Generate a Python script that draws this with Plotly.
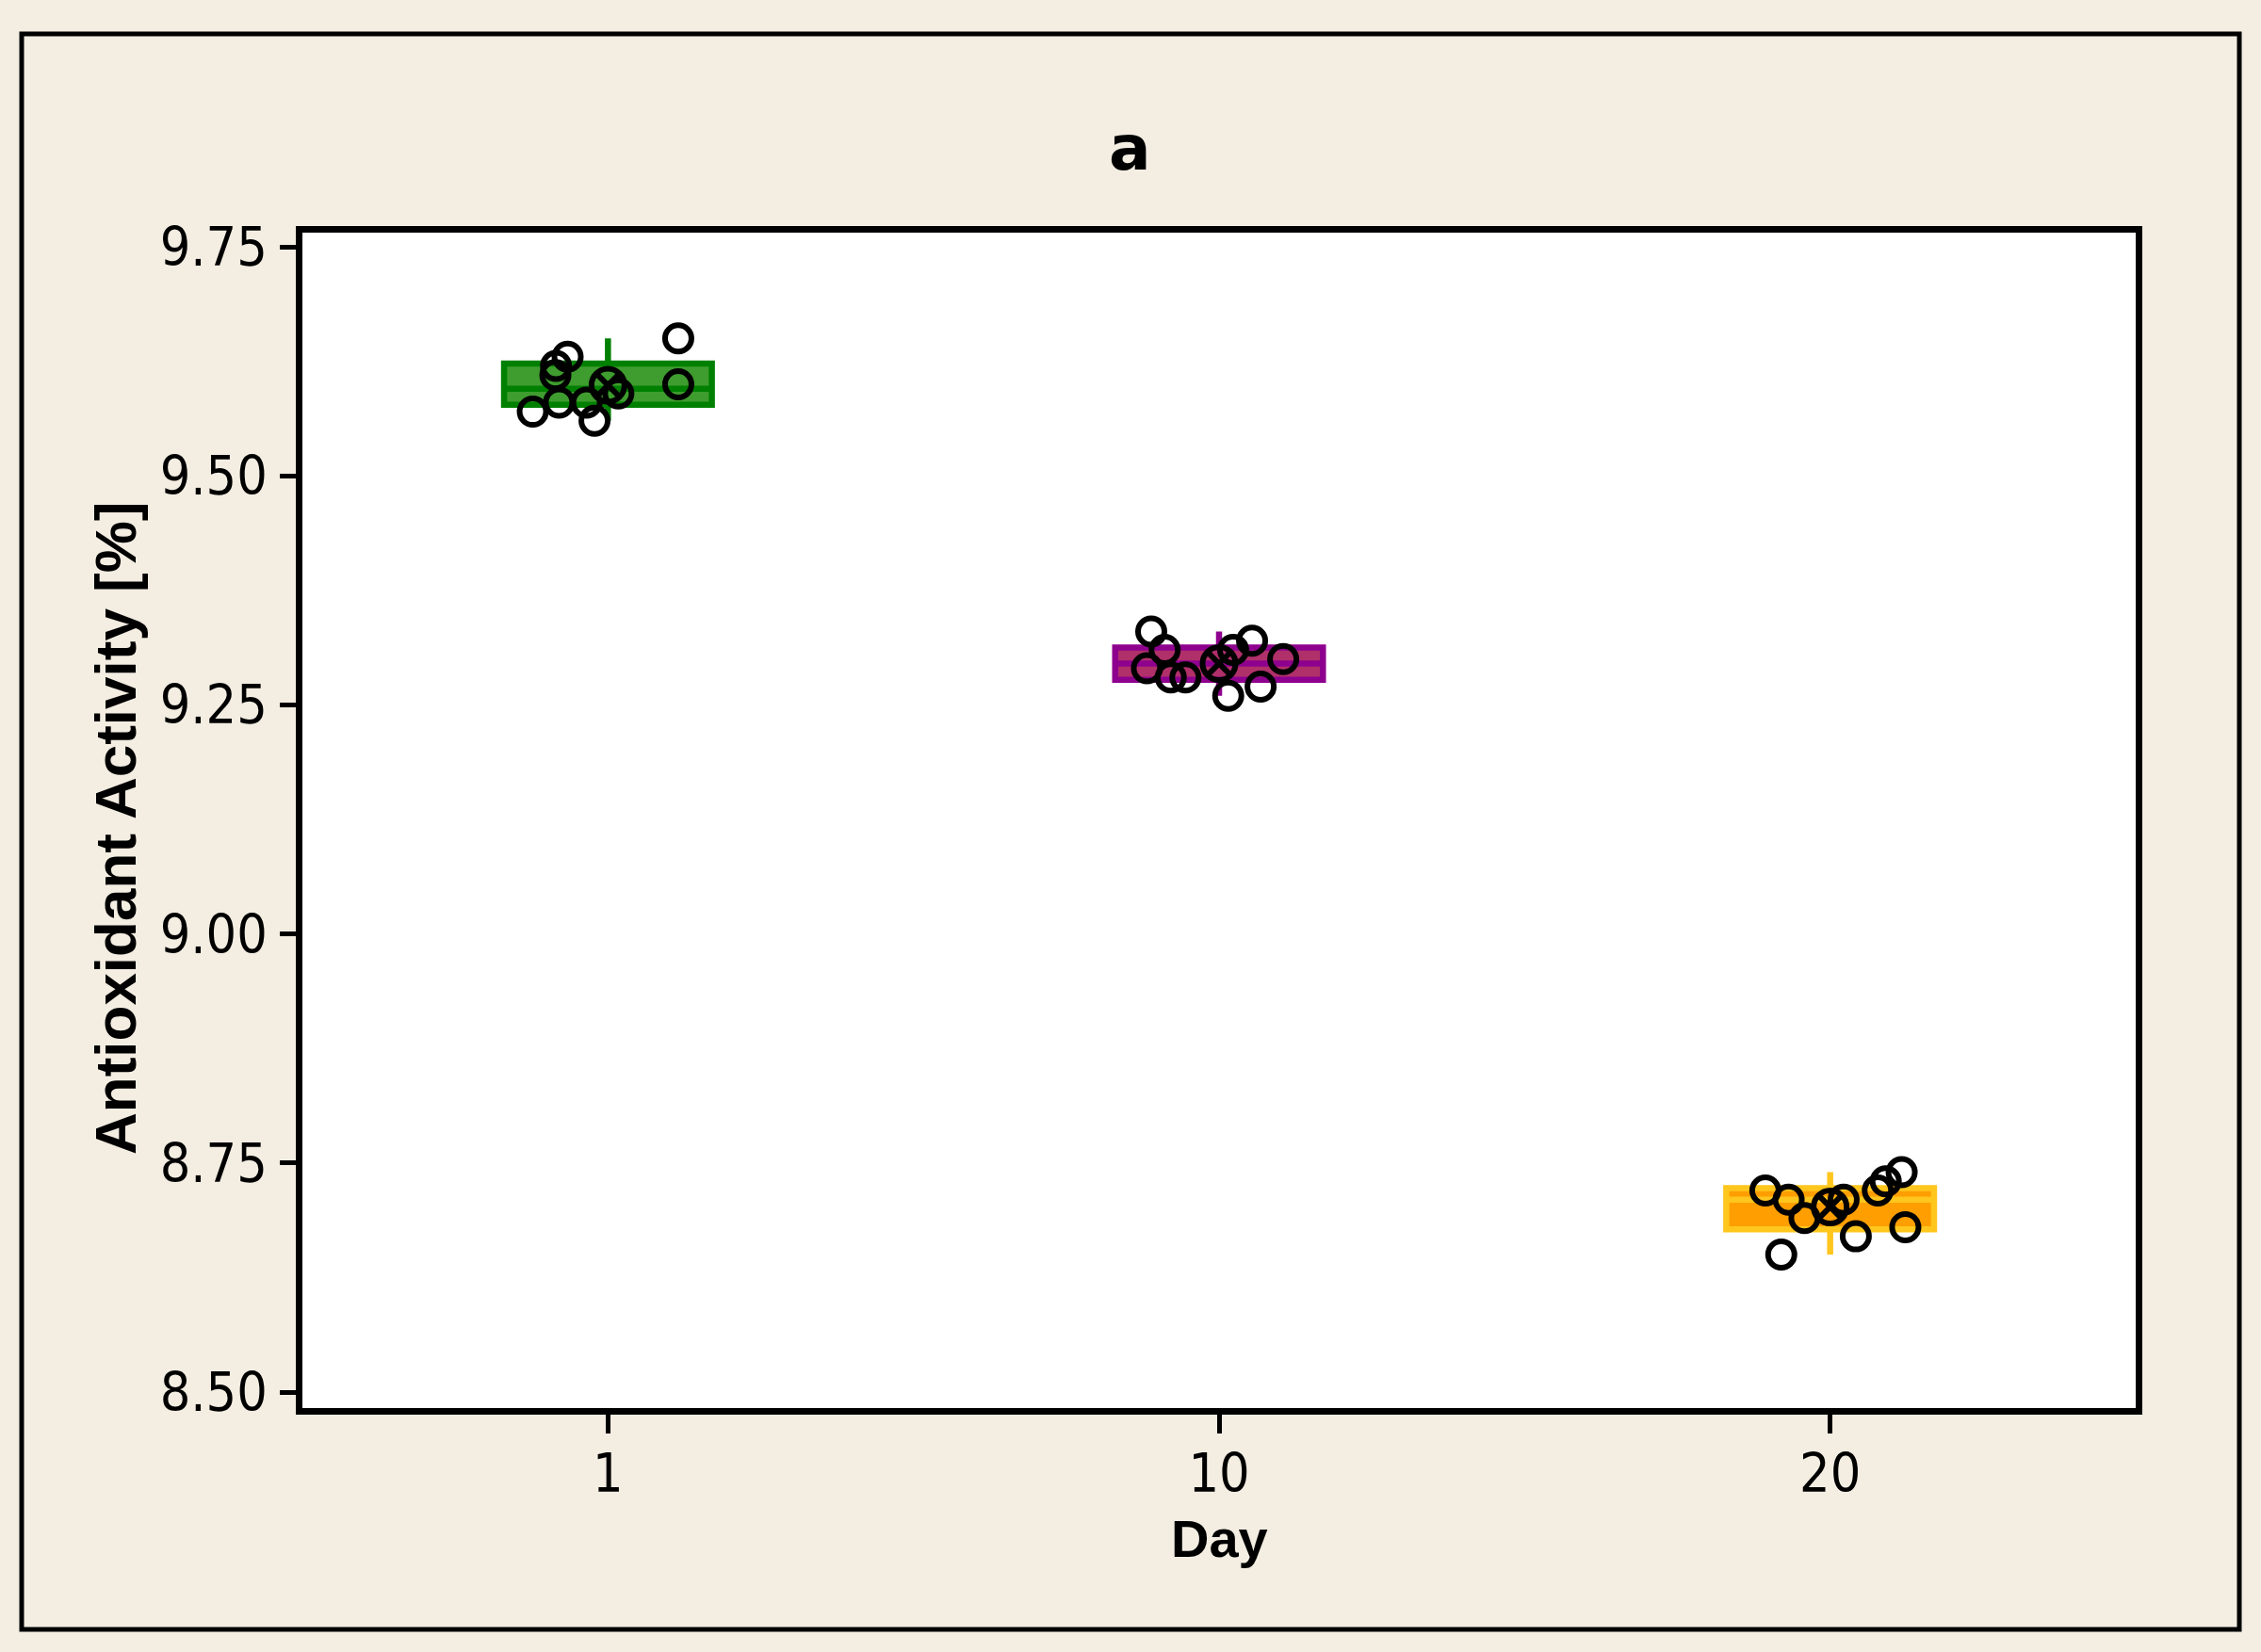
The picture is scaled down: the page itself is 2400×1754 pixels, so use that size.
import numpy as np
import plotly.graph_objects as go

# ---- data ----
days = ["1", "10", "20"]
activity_day1 = [9.57, 9.58, 9.61, 9.62, 9.63, 9.58, 9.56, 9.59, 9.65, 9.60]
activity_day10 = [9.33, 9.31, 9.29, 9.28, 9.28, 9.31, 9.32, 9.30, 9.26, 9.27]
activity_day20 = [8.72, 8.71, 8.69, 8.71, 8.65, 8.67, 8.72, 8.73, 8.74, 8.68]
# horizontal jitter of the individual-value points (category units)
jitter_day1 = [-0.123, -0.080, -0.086, -0.085, -0.066, -0.035, -0.022, 0.017, 0.115, 0.115]
jitter_day10 = [-0.111, -0.089, -0.118, -0.079, -0.055, 0.023, 0.054, 0.105, 0.015, 0.068]
jitter_day20 = [-0.106, -0.068, -0.042, 0.022, -0.080, 0.042, 0.078, 0.091, 0.117, 0.123]
y_ticks = [8.50, 8.75, 9.00, 9.25, 9.50, 9.75]

groups = [activity_day1, activity_day10, activity_day20]
jitters = [jitter_day1, jitter_day10, jitter_day20]
fills = ["#3F9C2F", "#B0306A", "#FF9E00"]
edges = ["#008000", "#8E008E", "#FFC61E"]

fig = go.Figure()

for i, vals in enumerate(groups):
    a = np.array(vals)
    q1 = float(np.percentile(a, 25, method="weibull"))
    q3 = float(np.percentile(a, 75, method="weibull"))
    med = float(np.median(a))
    fig.add_trace(go.Box(
        x=[i], q1=[q1], median=[med], q3=[q3],
        lowerfence=[float(a.min())], upperfence=[float(a.max())],
        width=0.34, whiskerwidth=0, boxpoints=False,
        fillcolor=fills[i], line=dict(color=edges[i], width=6.5),
        showlegend=False, hoverinfo="skip",
    ))

for i, vals in enumerate(groups):
    xs = [i + j for j in jitters[i]]
    fig.add_trace(go.Scatter(
        x=xs, y=vals, mode="markers",
        marker=dict(symbol="circle-open", size=28, color="black",
                    line=dict(width=6, color="black")),
        showlegend=False, hoverinfo="skip",
    ))

fig.add_trace(go.Scatter(
    x=list(range(len(groups))), y=[float(np.mean(g)) for g in groups],
    mode="markers",
    marker=dict(symbol="circle-x-open", size=35, color="black",
                line=dict(width=6, color="black")),
    showlegend=False, hoverinfo="skip",
))

L, R, T, B = 321, 2267, 247, 1495
W, H = 2400, 1754
pw, ph = R - L, B - T

def px(xp):
    return (xp - L) / pw

def py(yp):
    return (B - yp) / ph

# y range so that 9.75 sits at y=262 px and 8.50 at y=1478 px
ppu = (1478 - 262) / 1.25
y_top = 9.75 + (262 - T) / ppu
y_bot = 8.50 - (B - 1478) / ppu

tickfont = dict(family="Liberation Sans Narrow, DejaVu Sans Condensed, Liberation Sans, sans-serif",
                size=57, color="black")
boldfont = dict(family="Liberation Sans, Arial, sans-serif", color="black")

fig.update_layout(
    width=W, height=H,
    margin=dict(l=L, r=W - R, t=T, b=H - B, pad=0),
    paper_bgcolor="#F3EDE2", plot_bgcolor="white",
    showlegend=False,
    xaxis=dict(range=[-0.5, 2.5], tickvals=list(range(len(days))), ticktext=days,
               showgrid=False, zeroline=False, showline=True, mirror=True,
               linecolor="black", linewidth=6.5, ticks="outside", ticklen=20,
               tickwidth=5, tickcolor="black", tickfont=tickfont,
               ticklabelstandoff=-6),
    yaxis=dict(range=[y_bot, y_top], tickvals=y_ticks,
               ticktext=[f"{v:.2f}" for v in y_ticks],
               showgrid=False, zeroline=False, showline=True, mirror=True,
               linecolor="black", linewidth=6.5, ticks="outside", ticklen=17,
               tickwidth=5, tickcolor="black", tickfont=tickfont,
               ticklabelstandoff=2),
    shapes=[dict(type="rect", xref="paper", yref="paper",
                 x0=px(23), x1=px(2377), y0=py(1730), y1=py(36),
                 line=dict(color="black", width=5), fillcolor="rgba(0,0,0,0)",
                 layer="below")],
    annotations=[
        dict(text="<b>a</b>", xref="paper", yref="paper", x=px(1199), y=py(158),
             xanchor="center", yanchor="middle", showarrow=False,
             font=dict(size=66, family="DejaVu Sans, Verdana, sans-serif", color="black")),
        dict(text="<b>Day</b>", xref="paper", yref="paper", x=px(1294), y=py(1633),
             xanchor="center", yanchor="middle", showarrow=False,
             font=dict(size=56, **boldfont)),
        dict(text="<b>Antioxidant Activity [%]</b>", xref="paper", yref="paper",
             x=px(122), y=py(879), textangle=-90,
             xanchor="center", yanchor="middle", showarrow=False,
             font=dict(size=62, **boldfont)),
    ],
)

fig.write_html("out.html", config={"displayModeBar": False},
               post_script="document.body.style.margin='0px';")
